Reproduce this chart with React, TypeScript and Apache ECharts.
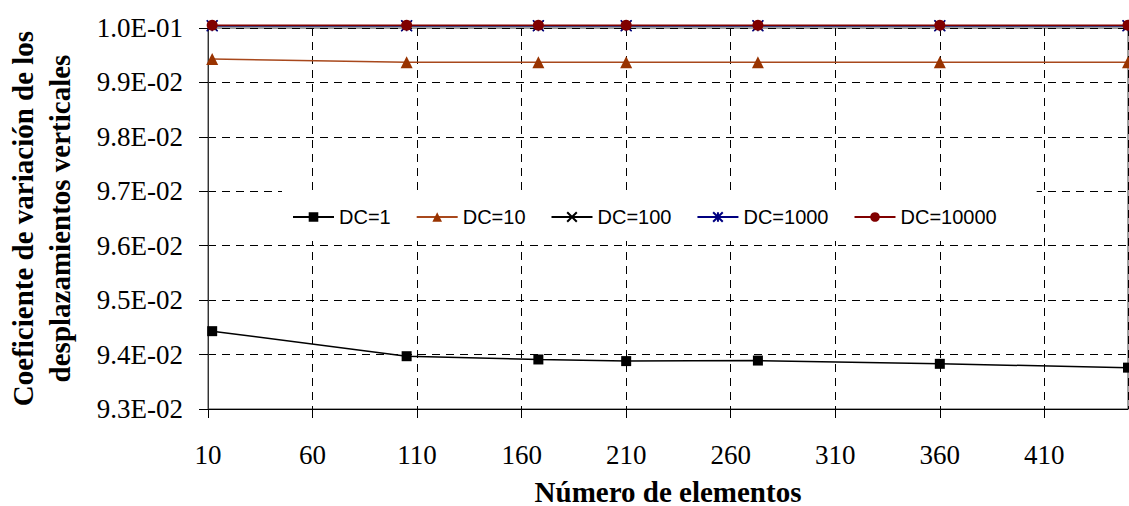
import React, { useEffect, useRef } from "react";
import * as echarts from "echarts";

const elements = [12, 105, 168, 210, 273, 360, 450];
const dc1 = [0.09443, 0.09397, 0.09391, 0.09388, 0.09389, 0.09383, 0.09376];
const dc10 = [0.09943, 0.09937, 0.09937, 0.09937, 0.09937, 0.09937, 0.09937];
const dc100 = [0.10004, 0.10004, 0.10004, 0.10004, 0.10004, 0.10004, 0.10004];
const dc1000 = [0.10004, 0.10004, 0.10004, 0.10004, 0.10004, 0.10004, 0.10004];
const dc10000 = [0.10005, 0.10005, 0.10005, 0.10005, 0.10005, 0.10005, 0.10005];

const seriesNames = ["DC=1", "DC=10", "DC=100", "DC=1000", "DC=10000"];

const X_PATH = "path://M0 0L10 10M10 0L0 10";
const STAR_PATH = "path://M5 0L5 10M0 0L10 10M10 0L0 10";

function fmtExp(v: number): string {
  const s = v.toExponential(1);
  const [m, e] = s.split("e");
  const n = parseInt(e, 10);
  return m + "E" + (n < 0 ? "-" : "+") + String(Math.abs(n)).padStart(2, "0");
}

export default function App() {
  const ref = useRef<HTMLDivElement>(null);
  useEffect(() => {
    if (!ref.current) return;
    const chart = echarts.init(ref.current, null, { renderer: "svg" });
    const pts = (arr: number[]) => elements.map((x, i) => [x, arr[i]]);
    const serif = "'Liberation Serif', 'Times New Roman', serif";
    chart.setOption({
      animation: false,
      backgroundColor: "#fff",
      grid: {
        left: 208,
        right: 1,
        top: 28,
        bottom: 97,
        show: true,
        borderColor: "#444",
        borderWidth: 1,
        outerBoundsMode: "none",
        containLabel: false,
      },
      legend: {
        left: 282,
        top: 191,
        data: seriesNames,
        itemWidth: 41,
        itemHeight: 12,
        itemGap: 25,
        backgroundColor: "#fff",
        padding: [16, 40, 14, 10],
        textStyle: {
          fontFamily: "'Liberation Sans', Arial, sans-serif",
          fontSize: 20,
          color: "#000",
        },
      },
      xAxis: {
        type: "value",
        min: 10,
        max: 450,
        interval: 50,
        name: "Número de elementos",
        nameLocation: "middle",
        nameGap: 68,
        nameTextStyle: {
          fontFamily: serif,
          fontSize: 29,
          fontWeight: "bold",
          color: "#000",
        },
        axisLine: { show: true, lineStyle: { color: "#000", width: 1 } },
        axisTick: { show: true, inside: false, length: 9, lineStyle: { color: "#000" } },
        axisLabel: {
          fontFamily: serif,
          fontSize: 27,
          color: "#000",
          margin: 32,
          showMaxLabel: false,
        },
        splitLine: {
          show: true,
          lineStyle: { color: "#000", type: [8, 6], width: 1 },
        },
      },
      yAxis: {
        type: "value",
        min: 0.093,
        max: 0.1,
        interval: 0.001,
        name: "Coeficiente de variación de los\ndesplazamientos verticales",
        nameLocation: "middle",
        nameRotate: 90,
        nameGap: 130,
        nameTextStyle: {
          fontFamily: serif,
          fontSize: 29,
          fontWeight: "bold",
          color: "#000",
          lineHeight: 37,
        },
        axisLine: { show: true, lineStyle: { color: "#333", width: 1 } },
        axisTick: { show: true, inside: false, length: 9, lineStyle: { color: "#000" } },
        axisLabel: {
          fontFamily: serif,
          fontSize: 27,
          color: "#000",
          margin: 25,
          formatter: (v: number) => fmtExp(v),
        },
        splitLine: {
          show: true,
          lineStyle: { color: "#000", type: [8, 6], width: 1 },
        },
      },
      series: [
        {
          name: seriesNames[0],
          type: "line",
          data: pts(dc1),
          symbol: "rect",
          symbolSize: 10,
          clip: false,
          lineStyle: { color: "#000", width: 1.5 },
          itemStyle: { color: "#000" },
        },
        {
          name: seriesNames[1],
          type: "line",
          data: pts(dc10),
          symbol: "triangle",
          symbolSize: 12,
          clip: false,
          lineStyle: { color: "#A8481C", width: 1.5 },
          itemStyle: { color: "#993300" },
        },
        {
          name: seriesNames[2],
          type: "line",
          data: pts(dc100),
          symbol: X_PATH,
          symbolSize: 10,
          clip: false,
          lineStyle: { color: "#000", width: 1.5 },
          itemStyle: { color: "#000", borderColor: "#000", borderWidth: 1.5 },
        },
        {
          name: seriesNames[3],
          type: "line",
          data: pts(dc1000),
          symbol: STAR_PATH,
          symbolSize: 11,
          clip: false,
          lineStyle: { color: "#000080", width: 1.5 },
          itemStyle: { color: "#000080", borderColor: "#000080", borderWidth: 1.5 },
        },
        {
          name: seriesNames[4],
          type: "line",
          data: pts(dc10000),
          symbol: "circle",
          symbolSize: 11,
          clip: false,
          lineStyle: { color: "#800000", width: 1.5 },
          itemStyle: { color: "#800000" },
        },
      ],
    });
    return () => chart.dispose();
  }, []);
  return (
    <div
      ref={ref}
      style={{ position: "absolute", left: 0, top: 0, width: 1129, height: 506 }}
    />
  );
}
